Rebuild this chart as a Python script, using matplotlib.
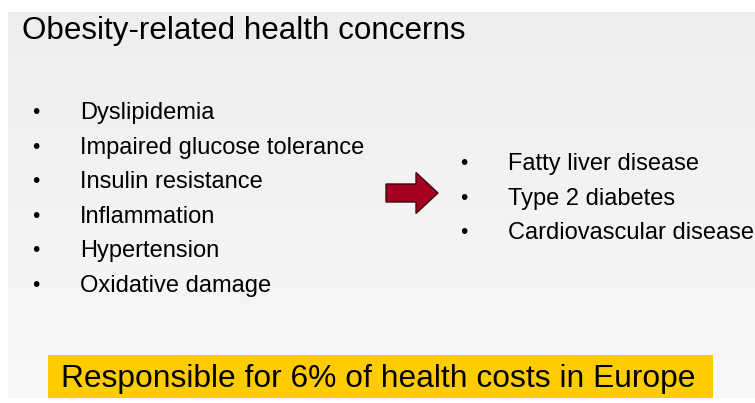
import numpy as np
import matplotlib.pyplot as plt
from matplotlib.patches import Rectangle, FancyArrow

TITLE = "Obesity-related health concerns"
CAUSES = ["Dyslipidemia", "Impaired glucose tolerance", "Insulin resistance",
          "Inflammation", "Hypertension", "Oxidative damage"]
OUTCOMES = ["Fatty liver disease", "Type 2 diabetes", "Cardiovascular disease"]
FOOTER = "Responsible for 6% of health costs in Europe"

FONT = "Liberation Sans"
W, H = 755, 403
fig = plt.figure(figsize=(W / 100, H / 100), dpi=100)
ax = fig.add_axes([0, 0, 1, 1])
ax.set_xlim(0, W)
ax.set_ylim(H, 0)
ax.set_axis_off()

# slide background: light grey gradient
grad = np.linspace(238, 248, 100)[:, None] / 255.0
grad = np.repeat(grad, 2, axis=1)
ax.imshow(np.dstack([grad, grad, grad]), extent=(8, W, 398, 12), aspect="auto", zorder=0)

ax.text(22, 39, TITLE, fontsize=22.6, family=FONT, va="baseline", ha="left", color="black")

dy = 34.6
# left list
for i, item in enumerate(CAUSES):
    y = 119 + i * dy
    ax.text(36, y - 1, "•", fontsize=15, family=FONT, va="baseline", ha="center")
    ax.text(80, y, item, fontsize=17, family=FONT, va="baseline", ha="left")

# right list
for i, item in enumerate(OUTCOMES):
    y = 170 + i * dy
    ax.text(464, y - 1, "•", fontsize=15, family=FONT, va="baseline", ha="center")
    ax.text(508, y, item, fontsize=17, family=FONT, va="baseline", ha="left")

# arrow
ax.add_patch(FancyArrow(386, 193, 52, 0, width=18, head_width=41, head_length=22,
                        length_includes_head=True, facecolor="#A50021",
                        edgecolor="#3a0a10", linewidth=1, zorder=3))

# footer box
ax.add_patch(Rectangle((48, 355), 665, 43, facecolor="#FFCC00", edgecolor="none", zorder=2))
ax.text(378, 387, FOOTER, fontsize=22.9, family=FONT, va="baseline", ha="center", zorder=3)

fig.savefig("out.png", dpi=100, facecolor="white")
